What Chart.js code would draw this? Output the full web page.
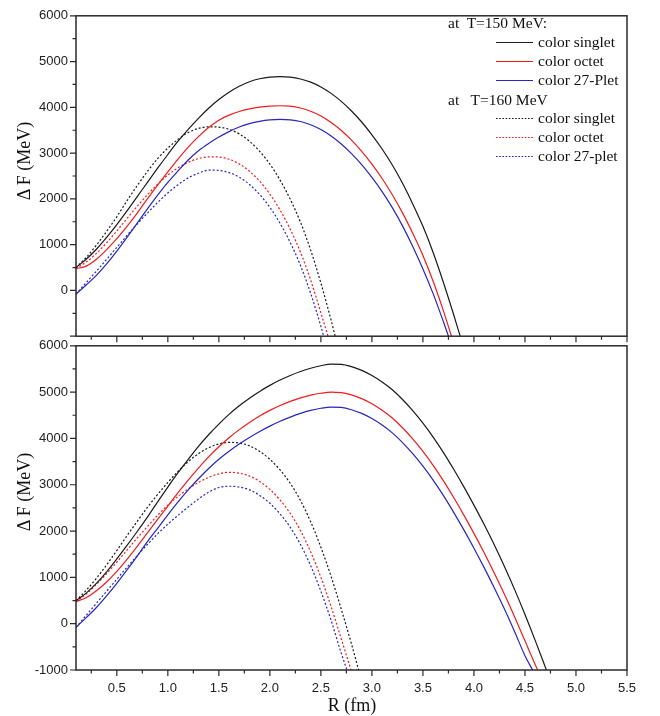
<!DOCTYPE html>
<html>
<head>
<meta charset="utf-8">
<script src="https://cdn.jsdelivr.net/npm/chart.js@4.4.1/dist/chart.umd.min.js"></script>
<style>
  html, body { margin: 0; padding: 0; background: #fff; }
  #wrap { position: relative; width: 660px; height: 716px; overflow: hidden; }
  canvas { position: absolute; left: 0; }
  #cTop { top: 0; z-index: 2; }
  #cBot { top: 330px; z-index: 1; }
  .ttl { position: absolute; z-index: 3; font-family: "Liberation Serif", "Times New Roman", serif;
         font-size: 18px; color: #111; white-space: nowrap; }
  .ytl { transform: translate(-50%, -50%) rotate(-90deg); }
  .xtl { transform: translate(-50%, -50%); }
  .lg { position: absolute; z-index: 3; font-family: "Liberation Serif", "Times New Roman", serif;
        font-size: 15.5px; color: #111; white-space: pre; line-height: 20px; height: 20px; }
  .lg svg { position: absolute; left: -42px; top: 9px; }
</style>
</head>
<body>
<div id="wrap">
  <canvas id="cBot" width="660" height="386"></canvas>
  <canvas id="cTop" width="660" height="352"></canvas>
  <div class="ttl ytl" style="left:24px; top:161px;">Δ F (MeV)</div>
  <div class="ttl ytl" style="left:24px; top:492px;">Δ F (MeV)</div>
  <div class="ttl xtl" style="left:352px; top:705px;">R (fm)</div>
</div>
<script>
"use strict";

/* ================================
   DATA
   ================================ */
// radius grid (fm); every curve uses the first n points plus its own end radius
const rGrid = [0.1, 0.2, 0.3, 0.4, 0.5, 0.6, 0.7, 0.8, 0.9, 1.0,
               1.1, 1.2, 1.3, 1.4, 1.5, 1.6, 1.7, 1.8, 1.9, 2.0,
               2.1, 2.2, 2.3, 2.4, 2.5, 2.6, 2.7, 2.8, 2.9, 3.0,
               3.1, 3.2, 3.3, 3.4, 3.5, 3.6, 3.7, 3.8, 3.9, 4.0,
               4.1, 4.2, 4.3, 4.4, 4.5, 4.6];

// upper panel, T = 150 MeV (solid)
const topSinglet150 = [500, 680, 900, 1160, 1440, 1740, 2050, 2360, 2670, 2970,
  3260, 3520, 3760, 3980, 4170, 4330, 4460, 4560, 4625, 4660,
  4670, 4660, 4620, 4550, 4445, 4305, 4130, 3920, 3680, 3400,
  3090, 2740, 2340, 1890, 1400, 830, 180, -520, -1000];
const topOctet150 = [475, 530, 680, 890, 1130, 1400, 1690, 2000, 2300, 2590,
  2870, 3130, 3360, 3560, 3720, 3830, 3910, 3965, 4005, 4028,
  4035, 4025, 3985, 3915, 3810, 3670, 3495, 3285, 3040, 2760,
  2445, 2090, 1695, 1250, 765, 200, -440, -1000];
const topPlet150 = [-80, 120, 330, 580, 860, 1160, 1470, 1780, 2080, 2360,
  2610, 2850, 3050, 3210, 3350, 3470, 3570, 3645, 3695, 3725,
  3735, 3725, 3690, 3620, 3515, 3375, 3200, 2990, 2750, 2470,
  2160, 1810, 1410, 960, 470, -70, -680, -1000];
// upper panel, T = 160 MeV (dotted)
const topSinglet160 = [500, 720, 990, 1290, 1610, 1960, 2290, 2600, 2880, 3110,
  3300, 3450, 3540, 3575, 3568, 3520, 3420, 3260, 3040, 2760,
  2410, 1990, 1490, 880, 160, -650, -1000];
const topOctet160 = [478, 620, 810, 1040, 1300, 1570, 1840, 2090, 2320, 2520,
  2680, 2800, 2880, 2918, 2915, 2865, 2765, 2605, 2385, 2105,
  1755, 1335, 835, 225, -490, -1000];
const topPlet160 = [-80, 170, 420, 680, 940, 1200, 1450, 1690, 1920, 2130,
  2310, 2460, 2560, 2628, 2622, 2575, 2475, 2315, 2095, 1815,
  1465, 1045, 545, -65, -785, -1000];
const topEnds = [3.865, 3.78, 3.75, 2.64, 2.57, 2.527];

// lower panel, T = 150 MeV (solid)
const botSinglet150 = [500, 660, 870, 1120, 1400, 1690, 1990, 2300, 2630, 2950,
  3260, 3550, 3830, 4080, 4310, 4520, 4705, 4870, 5015, 5145,
  5260, 5360, 5445, 5515, 5570, 5605, 5600, 5550, 5470, 5360,
  5220, 5050, 4840, 4600, 4330, 4030, 3700, 3340, 2960, 2560,
  2140, 1700, 1230, 730, 200, -360, -1000];
const botOctet150 = [480, 560, 710, 900, 1130, 1390, 1670, 1960, 2250, 2540,
  2830, 3100, 3360, 3600, 3820, 4015, 4190, 4345, 4485, 4605,
  4710, 4800, 4875, 4935, 4975, 4998, 4990, 4940, 4860, 4750,
  4610, 4440, 4230, 3990, 3720, 3420, 3090, 2730, 2350, 1950,
  1530, 1090, 630, 140, -370, -880, -1000];
const botPlet150 = [-80, 130, 350, 600, 870, 1160, 1460, 1770, 2060, 2350,
  2630, 2890, 3130, 3350, 3550, 3725, 3880, 4020, 4150, 4265,
  4370, 4460, 4540, 4605, 4652, 4678, 4670, 4620, 4540, 4430,
  4290, 4120, 3910, 3670, 3400, 3100, 2770, 2410, 2030, 1630,
  1210, 770, 310, -180, -690, -1000];
// lower panel, T = 160 MeV (dotted)
const botSinglet160 = [500, 720, 980, 1270, 1580, 1900, 2210, 2510, 2790, 3050,
  3290, 3500, 3670, 3800, 3880, 3915, 3900, 3840, 3720, 3550,
  3320, 3030, 2660, 2200, 1650, 1020, 310, -440, -1000];
const botOctet160 = [480, 640, 850, 1080, 1330, 1590, 1850, 2100, 2340, 2560,
  2750, 2910, 3050, 3160, 3235, 3268, 3250, 3190, 3070, 2900,
  2670, 2380, 2010, 1550, 1000, 370, -330, -1000];
const botPlet160 = [-80, 180, 440, 700, 960, 1220, 1470, 1710, 1940, 2150,
  2340, 2520, 2690, 2840, 2940, 2968, 2950, 2890, 2770, 2600,
  2370, 2080, 1710, 1250, 700, 70, -640, -1000];
const botEnds = [4.71, 4.625, 4.575, 2.87, 2.795, 2.755];

// axes
const xMajor = [0.5, 1.0, 1.5, 2.0, 2.5, 3.0, 3.5, 4.0, 4.5, 5.0, 5.5];
const xMinor = [0.25, 0.75, 1.25, 1.75, 2.25, 2.75, 3.25, 3.75, 4.25, 4.75, 5.25];
const yMajor = [-1000, 0, 1000, 2000, 3000, 4000, 5000, 6000];
const yMinor = [-500, 500, 1500, 2500, 3500, 4500, 5500];

const seriesLabels = ["color singlet", "color octet", "color 27-Plet",
                      "color singlet", "color octet", "color 27-plet"];

/* ================================
   STYLE
   ================================ */
const BLACK = "#1a1a1a";
const RED = "#f01c1c";
const BLUE = "#2626c0";
const lineColors = [BLACK, RED, BLUE, BLACK, RED, BLUE];
const dotted = [false, false, false, true, true, true];

Chart.defaults.font.family = '"Liberation Sans", Arial, sans-serif';
Chart.defaults.font.size = 13;
Chart.defaults.color = "#222";

/* ================================
   FRAME + TICK MARKS
   ================================ */
const frameTicks = {
  id: "frameTicks",
  afterDraw(chart) {
    const { ctx, chartArea: a, scales: { x, y } } = chart;
    ctx.save();
    ctx.strokeStyle = "#2a2a2a";
    ctx.lineWidth = 1.5;
    ctx.strokeRect(a.left, a.top, a.right - a.left, a.bottom - a.top);

    ctx.lineWidth = 1.2;
    ctx.beginPath();
    const yTick = (v, len) => {
      const p = y.getPixelForValue(v);
      ctx.moveTo(a.left, p);
      ctx.lineTo(a.left - len, p);
    };
    const xTick = (v, len) => {
      const p = x.getPixelForValue(v);
      ctx.moveTo(p, a.bottom);
      ctx.lineTo(p, a.bottom + len);
    };
    yMajor.forEach(v => yTick(v, 6));
    yMinor.forEach(v => yTick(v, 3.5));
    xMajor.forEach(v => xTick(v, 6));
    xMinor.forEach(v => xTick(v, 3.5));
    ctx.stroke();
    ctx.restore();
  }
};

/* ================================
   PANELS
   ================================ */
function buildData(vals, endR) {
  return vals.map((v, k) => ({ x: k < vals.length - 1 ? rGrid[k] : endR, y: v }));
}

function makePanel(canvasId, seriesVals, ends, lower) {
  const datasets = seriesVals.map((vals, i) => ({
    label: seriesLabels[i],
    data: buildData(vals, ends[i]),
    borderColor: lineColors[i],
    borderWidth: 1.2,
    borderDash: dotted[i] ? [2, 2] : [],
    pointRadius: 0,
    cubicInterpolationMode: "monotone",
    fill: false
  }));

  return new Chart(document.getElementById(canvasId), {
    type: "line",
    data: { datasets },
    options: {
      responsive: false,
      animation: false,
      events: [],
      layout: { padding: { top: lower ? 10 : 11, right: 33, left: 0, bottom: 0 } },
      plugins: { legend: { display: false }, tooltip: { enabled: false } },
      scales: {
        x: {
          type: "linear",
          min: 0.1,
          max: 5.5,
          afterBuildTicks: s => { s.ticks = xMajor.map(v => ({ value: v })); },
          afterFit: s => { s.height = lower ? 46 : 12; },
          grid: { display: false, drawTicks: false },
          border: { display: false },
          ticks: {
            display: lower,
            padding: 11,
            autoSkip: false,
            maxRotation: 0,
            callback: v => Number(v).toFixed(1)
          }
        },
        y: {
          type: "linear",
          min: -1000,
          max: 6000,
          afterBuildTicks: s => { s.ticks = yMajor.map(v => ({ value: v })); },
          afterFit: s => { s.width = 76; },
          grid: { display: false, drawTicks: false },
          border: { display: false },
          ticks: {
            padding: 8,
            callback: v => (!lower && v === -1000) ? "" : String(v)
          }
        }
      }
    },
    plugins: [frameTicks]
  });
}

/* ================================
   LEGEND (upper panel)
   ================================ */
function buildLegend() {
  const wrap = document.getElementById("wrap");
  const rows = [
    { y: 23, head: "at  T=150 MeV:" },
    { y: 42, i: 0 }, { y: 61, i: 1 }, { y: 80, i: 2 },
    { y: 100, head: "at   T=160 MeV" },
    { y: 118, i: 3 }, { y: 137, i: 4 }, { y: 156, i: 5 }
  ];
  rows.forEach(r => {
    const d = document.createElement("div");
    d.className = "lg";
    d.style.top = (r.y - 10) + "px";
    if (r.head) {
      d.style.left = "448px";
      d.textContent = r.head;
    } else {
      d.style.left = "538px";
      d.textContent = seriesLabels[r.i];
      const dash = dotted[r.i] ? ' stroke-dasharray="1.6 1.6"' : "";
      d.insertAdjacentHTML("afterbegin",
        '<svg width="37" height="3"><line x1="0" y1="1.5" x2="37" y2="1.5" stroke="' +
        lineColors[r.i] + '" stroke-width="1"' + dash + '/></svg>');
    }
    wrap.appendChild(d);
  });
}

/* ================================
   INIT
   ================================ */
makePanel("cTop", [topSinglet150, topOctet150, topPlet150,
                   topSinglet160, topOctet160, topPlet160], topEnds, false);
makePanel("cBot", [botSinglet150, botOctet150, botPlet150,
                   botSinglet160, botOctet160, botPlet160], botEnds, true);
buildLegend();
</script>
</body>
</html>
